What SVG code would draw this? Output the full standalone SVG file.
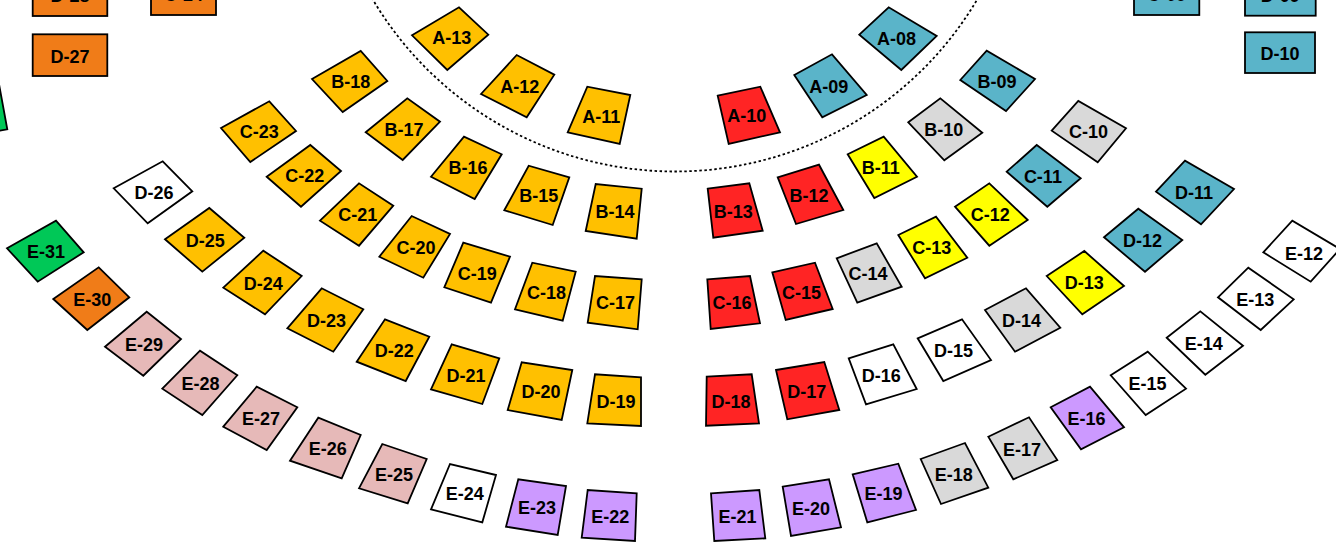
<svg xmlns="http://www.w3.org/2000/svg" width="1336" height="542" viewBox="0 0 1336 542">
<style>
.s{stroke:#000;stroke-width:1.8;stroke-linejoin:miter}
.au{fill:#FFC000}.rd{fill:#FF2424}.bl{fill:#5AB4C9}.gy{fill:#D9D9D9}.yl{fill:#FFFF00}.wh{fill:#FFFFFF}.pk{fill:#E6B9B8}.pu{fill:#CC99FF}.or{fill:#F07C18}.gn{fill:#00C857}
.t{font-family:"Liberation Sans",Arial,sans-serif;font-weight:bold;font-size:18px;text-anchor:middle;fill:#000}
.arc{fill:none;stroke:#000;stroke-width:1.8;stroke-dasharray:2.5 2.5}
</style>
<rect width="1336" height="542" fill="#fff"/>
<g id="connectors">
<circle class="arc" cx="675" cy="-180" r="351.5"/>
</g>
<!-- boxes -->
<g id="D-28"><rect class="s or" x="32.7" y="-25.7" width="74.6" height="41.7"/><text class="t" x="70" y="2.3">D-28</text></g>
<g id="C-24"><rect class="s or" x="151" y="-26.7" width="65" height="41.7"/><text class="t" x="183.5" y="1.3">C-24</text></g>
<g id="D-27"><rect class="s or" x="32.7" y="34.3" width="74.6" height="41.7"/><text class="t" x="70" y="62.8">D-27</text></g>
<g id="C-09"><rect class="s bl" x="1134" y="-26.7" width="65.3" height="41.7"/><text class="t" x="1166.7" y="1.3">C-09</text></g>
<g id="D-09"><rect class="s bl" x="1245" y="-26" width="70.7" height="41.7"/><text class="t" x="1280.3" y="2">D-09</text></g>
<g id="D-10"><rect class="s bl" x="1245" y="32.3" width="70" height="40.7"/><text class="t" x="1280" y="60.3">D-10</text></g>
<!-- row A -->
<g id="A-13"><polygon class="s au" points="412,35.3 459,7.3 488.3,34.7 447.3,70"/><text class="t" x="451.7" y="44.3">A-13</text></g>
<g id="A-12"><polygon class="s au" points="481,94 516.7,55 554.3,74.7 526.7,117.3"/><text class="t" x="519.7" y="92.8">A-12</text></g>
<g id="A-11"><polygon class="s au" points="567.7,132.3 587.3,86.7 630.3,95 619.7,144"/><text class="t" x="601.3" y="122.5">A-11</text></g>
<g id="A-10"><polygon class="s rd" points="717.7,95.7 760.3,86.7 780,132.3 728.7,144"/><text class="t" x="746.7" y="122.2">A-10</text></g>
<g id="A-09"><polygon class="s bl" points="794.3,75 832,54.3 866.7,95 822.3,117.3"/><text class="t" x="828.8" y="92.9">A-09</text></g>
<g id="A-08"><polygon class="s bl" points="859.3,34.7 888.7,7.3 936.7,36 901.3,70"/><text class="t" x="896.5" y="44.5">A-08</text></g>
<!-- row B -->
<g id="B-18"><polygon class="s au" points="312,79 360.7,51 387.3,81 342.7,112"/><text class="t" x="350.7" y="88.3">B-18</text></g>
<g id="B-17"><polygon class="s au" points="365.7,132.3 407.3,98.3 440,121.7 402.7,160"/><text class="t" x="403.9" y="135.6">B-17</text></g>
<g id="B-16"><polygon class="s au" points="431,176.7 464,136.7 501.7,154.3 474.7,199"/><text class="t" x="467.9" y="174.2">B-16</text></g>
<g id="B-15"><polygon class="s au" points="504.3,210.3 528.7,165.7 569.3,177.3 552.7,225"/><text class="t" x="538.8" y="202.1">B-15</text></g>
<g id="B-14"><polygon class="s au" points="585.7,231 595.7,184 641.7,188.7 636.7,238.7"/><text class="t" x="615" y="218.1">B-14</text></g>
<g id="B-13"><polygon class="s rd" points="707.7,188.7 749.3,183.3 762.7,230.7 713.3,237.7"/><text class="t" x="733.3" y="217.6">B-13</text></g>
<g id="B-12"><polygon class="s rd" points="777.7,177.3 819,164.7 843.3,210 796,224"/><text class="t" x="809" y="201.5">B-12</text></g>
<g id="B-11"><polygon class="s yl" points="847.7,154.3 883.7,136.7 917,176.7 874.3,198"/><text class="t" x="880.7" y="173.9">B-11</text></g>
<g id="B-10"><polygon class="s gy" points="908.3,122.3 940.3,98.3 982.3,132.7 944.3,160.3"/><text class="t" x="943.8" y="135.9">B-10</text></g>
<g id="B-09"><polygon class="s bl" points="960.3,80 986.7,50.7 1035,79 1006,111"/><text class="t" x="997" y="87.7">B-09</text></g>
<!-- row C -->
<g id="C-23"><polygon class="s au" points="221,128 269.3,101.3 296,131 250.3,162"/><text class="t" x="259.2" y="138.1">C-23</text></g>
<g id="C-22"><polygon class="s au" points="266.7,176.7 310.3,145 341,171 301,206.7"/><text class="t" x="304.8" y="182.4">C-22</text></g>
<g id="C-21"><polygon class="s au" points="320,220.7 359,183.3 393.3,205.7 359,245.7"/><text class="t" x="357.8" y="221.4">C-21</text></g>
<g id="C-20"><polygon class="s au" points="379.3,256.7 411.7,216 450,234 423.3,277.7"/><text class="t" x="416.1" y="253.6">C-20</text></g>
<g id="C-19"><polygon class="s au" points="444.3,287.3 463.3,242.7 510,256.7 491,302.7"/><text class="t" x="477.2" y="279.9">C-19</text></g>
<g id="C-18"><polygon class="s au" points="515,309.3 532.3,262.7 575.7,271.7 562.7,320.7"/><text class="t" x="546.4" y="298.6">C-18</text></g>
<g id="C-17"><polygon class="s au" points="587.7,322.7 595,276 641.7,279.3 637.7,329.3"/><text class="t" x="615.5" y="309.3">C-17</text></g>
<g id="C-16"><polygon class="s rd" points="707.3,279.3 750,276 760,323.3 710.7,329"/><text class="t" x="732" y="309.4">C-16</text></g>
<g id="C-15"><polygon class="s rd" points="772.3,272.3 815,262.7 832.7,309 785.7,320"/><text class="t" x="801.4" y="298.5">C-15</text></g>
<g id="C-14"><polygon class="s gy" points="836.7,258.3 876.7,243.3 901.7,286.7 857.3,302.7"/><text class="t" x="868.1" y="280.3">C-14</text></g>
<g id="C-13"><polygon class="s yl" points="898.3,235 936,216.7 967.3,257.7 925,278.3"/><text class="t" x="931.7" y="254.4">C-13</text></g>
<g id="C-12"><polygon class="s yl" points="955,206.7 989.3,183.3 1027.7,220 989.3,245.7"/><text class="t" x="990.3" y="221.4">C-12</text></g>
<g id="C-11"><polygon class="s bl" points="1006.7,171.7 1036.7,145 1080.7,178.3 1047.3,206.7"/><text class="t" x="1042.9" y="182.9">C-11</text></g>
<g id="C-10"><polygon class="s gy" points="1051.7,130.7 1078.3,101 1126,128.3 1097.7,162.3"/><text class="t" x="1088.4" y="138.1">C-10</text></g>
<!-- row D -->
<g id="D-26"><polygon class="s wh" points="113.7,188.3 162.7,161.3 192.3,191.3 147.7,223.3"/><text class="t" x="154.1" y="198.5">D-26</text></g>
<g id="D-25"><polygon class="s au" points="165,239.3 209.3,208 244.3,237.7 202.3,271.7"/><text class="t" x="205.2" y="246.7">D-25</text></g>
<g id="D-24"><polygon class="s au" points="223.3,287.7 263.3,250.7 301.7,276 265,314.3"/><text class="t" x="263.3" y="289.7">D-24</text></g>
<g id="D-23"><polygon class="s au" points="287.3,328.3 321.7,288.3 363.3,309.3 333.3,351.7"/><text class="t" x="326.4" y="326.9">D-23</text></g>
<g id="D-22"><polygon class="s au" points="356.7,361.7 385,319.3 429.3,336.7 405.7,381"/><text class="t" x="394.2" y="357.2">D-22</text></g>
<g id="D-21"><polygon class="s au" points="431,389.3 451.7,344.3 499.3,358.3 482.3,404"/><text class="t" x="466.1" y="381.5">D-21</text></g>
<g id="D-20"><polygon class="s au" points="507.7,410 521.7,362.3 572.3,370 561.7,420"/><text class="t" x="540.9" y="398.1">D-20</text></g>
<g id="D-19"><polygon class="s au" points="587.3,423.3 595,374.3 641,377.3 641,426"/><text class="t" x="616.1" y="407.7">D-19</text></g>
<g id="D-18"><polygon class="s rd" points="706.7,376.7 751.7,374.3 759,423.3 706,425.7"/><text class="t" x="730.9" y="407.5">D-18</text></g>
<g id="D-17"><polygon class="s rd" points="776,370 824.3,362 839.3,410 787.3,419.3"/><text class="t" x="806.7" y="397.8">D-17</text></g>
<g id="D-16"><polygon class="s wh" points="848.7,358.3 893.3,344.3 916.7,389 866,404.3"/><text class="t" x="881.2" y="381.5">D-16</text></g>
<g id="D-15"><polygon class="s wh" points="917.7,338.3 962,319.3 991,360 943.3,381"/><text class="t" x="953.5" y="357.2">D-15</text></g>
<g id="D-14"><polygon class="s gy" points="985,310 1026,288.3 1060.3,327.7 1015,351.7"/><text class="t" x="1021.6" y="326.9">D-14</text></g>
<g id="D-13"><polygon class="s yl" points="1046.7,276 1084.3,251 1124,286 1082.3,314.3"/><text class="t" x="1084.3" y="289.3">D-13</text></g>
<g id="D-12"><polygon class="s bl" points="1104,237.3 1138.3,208.7 1182.3,240 1145,271.7"/><text class="t" x="1142.4" y="246.9">D-12</text></g>
<g id="D-11"><polygon class="s bl" points="1156,191.7 1185,160.7 1234,189 1201,224.3"/><text class="t" x="1194" y="198.9">D-11</text></g>
<!-- row E -->
<g id="E-32"><polygon class="s gn" points="-60,95 -1,84 7.3,129.3 -50,140"/></g>
<g id="E-31"><polygon class="s gn" points="7,248.3 56,220.7 83.7,252.3 37.7,281.7"/><text class="t" x="46.1" y="258.3">E-31</text></g>
<g id="E-30"><polygon class="s or" points="53.3,299 98.7,267.3 129.3,297.3 87.3,330"/><text class="t" x="92.2" y="305.9">E-30</text></g>
<g id="E-29"><polygon class="s pk" points="105,346.7 146.7,311.7 181,339 143.3,375.7"/><text class="t" x="144" y="350.8">E-29</text></g>
<g id="E-28"><polygon class="s pk" points="162.3,388.7 200,350.7 237.3,375.3 202.3,415"/><text class="t" x="200.5" y="389.9">E-28</text></g>
<g id="E-27"><polygon class="s pk" points="223.3,426.7 256.7,386.7 297.3,407.3 266.7,450"/><text class="t" x="261" y="425.2">E-27</text></g>
<g id="E-26"><polygon class="s pk" points="290,460.7 318.3,417.7 360.7,435 341.7,478.3"/><text class="t" x="327.7" y="455.4">E-26</text></g>
<g id="E-25"><polygon class="s pk" points="359,488.3 382.3,444 426.7,459 407.7,503.3"/><text class="t" x="393.9" y="481.2">E-25</text></g>
<g id="E-24"><polygon class="s wh" points="431,509.3 450,464 496,475 482.3,522.3"/><text class="t" x="464.8" y="500.2">E-24</text></g>
<g id="E-23"><polygon class="s pu" points="506,526.7 518.3,479.3 566,486 557.7,535"/><text class="t" x="537" y="514.3">E-23</text></g>
<g id="E-22"><polygon class="s pu" points="581.7,537.7 587.7,490 636.7,493.3 635,541"/><text class="t" x="610.3" y="523">E-22</text></g>
<g id="E-21"><polygon class="s pu" points="711,493.3 759.3,490 765.3,538.3 714.3,541"/><text class="t" x="737.5" y="523.2">E-21</text></g>
<g id="E-20"><polygon class="s pu" points="782.7,486.7 829,479.3 841,527.3 791,536"/><text class="t" x="810.9" y="514.8">E-20</text></g>
<g id="E-19"><polygon class="s pu" points="852.7,474.3 898.3,463.7 916,510 867.3,522.3"/><text class="t" x="883.6" y="500.1">E-19</text></g>
<g id="E-18"><polygon class="s gy" points="920.7,459 965,443 988.3,487.7 941,504"/><text class="t" x="953.8" y="480.9">E-18</text></g>
<g id="E-17"><polygon class="s gy" points="988.3,436.7 1029,417.3 1057.3,460 1013.3,479.3"/><text class="t" x="1022" y="455.8">E-17</text></g>
<g id="E-16"><polygon class="s pu" points="1050.7,407.3 1090,386.7 1124,427.3 1081,449.3"/><text class="t" x="1086.4" y="425.2">E-16</text></g>
<g id="E-15"><polygon class="s wh" points="1110.7,375.3 1147.7,351.7 1186,388.7 1145.7,415"/><text class="t" x="1147.5" y="390.2">E-15</text></g>
<g id="E-14"><polygon class="s wh" points="1166.7,337.7 1200.3,311.3 1243,345.7 1205.3,374.7"/><text class="t" x="1203.8" y="349.9">E-14</text></g>
<g id="E-13"><polygon class="s wh" points="1218,297.3 1248.3,267.7 1293.7,299.3 1260.7,330"/><text class="t" x="1255.2" y="306.1">E-13</text></g>
<g id="E-12"><polygon class="s wh" points="1263.3,252.3 1292.3,220.7 1340,249 1310.7,281.7"/><text class="t" x="1304" y="259.5">E-12</text></g>
</svg>
